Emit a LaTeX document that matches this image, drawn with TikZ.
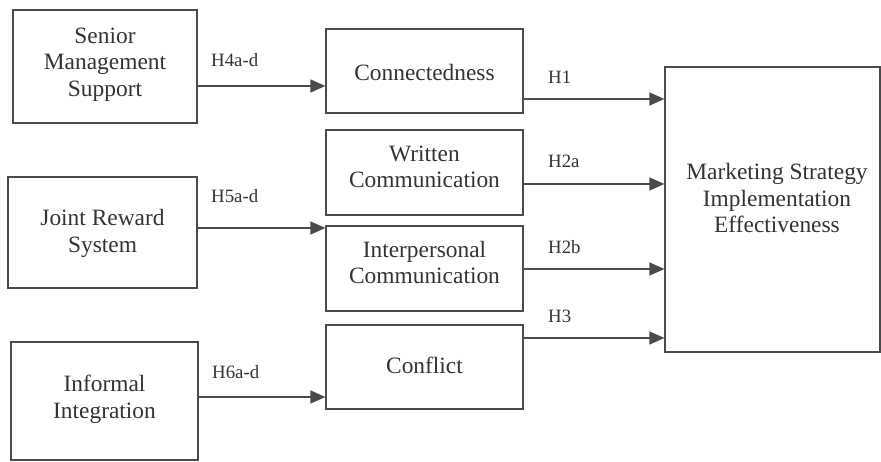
\documentclass[tikz,border=0pt]{standalone}
\usepackage{fontspec}
\setmainfont{Liberation Serif}
\usetikzlibrary{arrows.meta}
\definecolor{ink}{HTML}{333333}
\definecolor{edge}{HTML}{4A4A4A}
\tikzset{
  box/.style={draw=edge, line width=1.2pt, rectangle, inner sep=0pt},
  boxtext/.style={text=ink, align=center, font=\fontsize{23.4}{26.6}\selectfont, inner sep=0pt},
  hlabel/.style={text=ink, anchor=west, font=\fontsize{18.8}{21}\selectfont, inner sep=0pt},
  link/.style={draw=edge, line width=1.2pt, -{Triangle[length=15pt,width=13pt]}}
}
\begin{document}
\begin{tikzpicture}[x=1pt,y=-1pt]
\useasboundingbox (0,0) rectangle (881,462);
% left boxes
\node[box, minimum width=184pt, minimum height=113pt] (sen) at (105,66.5) {};
\node[box, minimum width=189pt, minimum height=111pt] (joint) at (102.5,232.5) {};
\node[box, minimum width=187pt, minimum height=118pt] (inf) at (104.5,401) {};
% middle boxes
\node[box, minimum width=197pt, minimum height=84pt] (con) at (424.5,71) {};
\node[box, minimum width=197pt, minimum height=85pt] (wri) at (424.5,172.5) {};
\node[box, minimum width=197pt, minimum height=85pt] (int) at (424.5,268.5) {};
\node[box, minimum width=197pt, minimum height=84pt] (conf) at (424.5,367) {};
% right box
\node[box, minimum width=215pt, minimum height=285pt] (mkt) at (772.5,209.5) {};
% texts
\node[boxtext] (sen-t) at (105,64.5) {Senior\\Management\\Support};
\node[boxtext] (joint-t) at (102.5,233.5) {Joint Reward\\System};
\node[boxtext] (inf-t) at (104.5,399) {Informal\\Integration};
\node[boxtext] (con-t) at (424.5,72) {Connectedness};
\node[boxtext] (wri-t) at (424.5,167) {Written\\Communication};
\node[boxtext] (int-t) at (424.5,262.5) {Interpersonal\\Communication};
\node[boxtext] (conf-t) at (424.5,365) {Conflict};
\node[boxtext] (mkt-t) at (777,198) {Marketing Strategy\\Implementation\\Effectiveness};
% connectors
\draw[link] (sen.east |- 0,86) -- (con.west |- 0,86);
\draw[link] (joint.east |- 0,228) -- (int.west |- 0,228);
\draw[link] (inf.east |- 0,397) -- (conf.west |- 0,397);
\draw[link] (con.east |- 0,99) -- (mkt.west |- 0,99);
\draw[link] (wri.east |- 0,184) -- (mkt.west |- 0,184);
\draw[link] (int.east |- 0,269) -- (mkt.west |- 0,269);
\draw[link] (conf.east |- 0,338) -- (mkt.west |- 0,338);
% labels
\node[hlabel] (l4) at (211,60) {H4a-d};
\node[hlabel] (l5) at (211,196) {H5a-d};
\node[hlabel] (l6) at (212,372) {H6a-d};
\node[hlabel] (l1) at (548,77) {H1};
\node[hlabel] (l2a) at (548,161) {H2a};
\node[hlabel] (l2b) at (548,247) {H2b};
\node[hlabel] (l3) at (548,316) {H3};
\end{tikzpicture}
\end{document}
